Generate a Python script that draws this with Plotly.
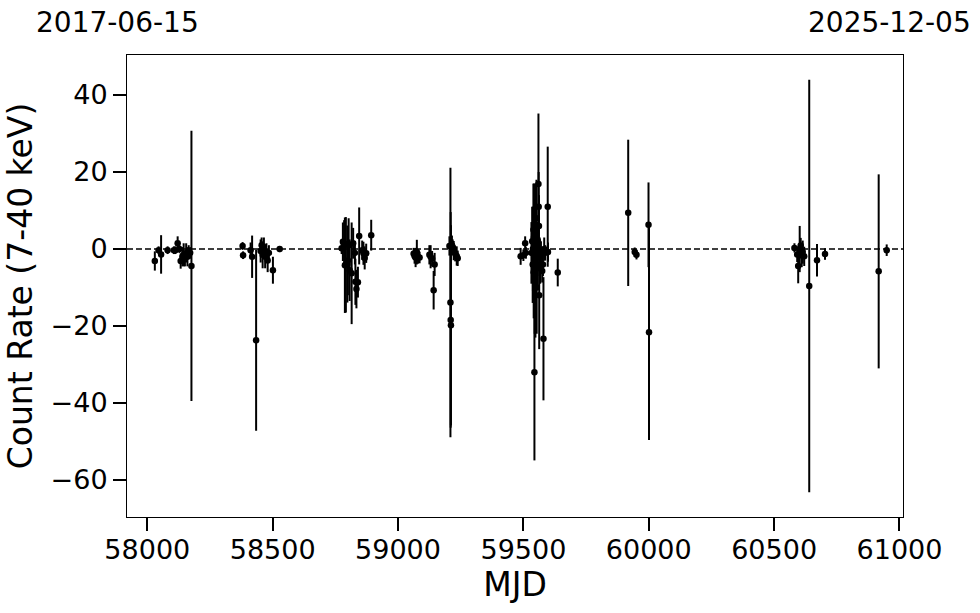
import plotly.graph_objects as go

# ---- data ----
mjd = [
    # cluster 1
    58030, 58045, 58055, 58081, 58106, 58112, 58121, 58128, 58133, 58140,
    58145, 58150, 58155, 58160, 58165, 58171, 58176,
    # cluster 2
    58380, 58382, 58412, 58418, 58434, 58452, 58456, 58460, 58465, 58470,
    58475, 58480, 58485, 58501, 58528,
    # cluster 3
    58775, 58780, 58785, 58788, 58792, 58798, 58800, 58803, 58807, 58815,
    58821, 58828, 58830, 58834, 58840, 58845, 58857, 58862, 58867, 58873, 58893,
    # cluster 4
    59062, 59066, 59070, 59075, 59080, 59086, 59125, 59130, 59136, 59142,
    59146, 59205, 59209, 59210, 59211, 59215, 59218, 59222, 59228, 59234, 59238,
    # cluster 5
    59489, 59500, 59507, 59510, 59532, 59535, 59537, 59538, 59540, 59541,
    59542, 59543, 59544, 59545, 59546, 59548, 59549, 59550, 59552, 59553,
    59555, 59557, 59558, 59560, 59561, 59562, 59563, 59565, 59567, 59570,
    59575, 59578, 59580, 59583, 59587, 59597, 59598, 59637,
    # sparse
    59918, 59944, 59951, 59999, 60001,
    # cluster 6
    60581, 60592, 60596, 60602, 60606, 60610, 60614, 60620, 60640, 60671,
    60703, 60917, 60949,
]
rate = [
    -3.1, -0.3, -1.4, -0.3, -0.3, -0.3, 1.5, 0.0, -3.1, -2.0,
    -1.5, -2.5, -1.0, -2.0, -0.5, -1.0, -4.4,
    0.8, -1.6, -0.3, -2.0, -23.7, -0.5, 1.0, -1.5, 0.5, -2.0,
    -1.0, -3.0, -1.0, -5.5, 0.0,
    0.2, 1.9, 1.5, -4.2, -4.1, -3.9, -3.0, 1.0, -5.5, -6.3,
    1.5, -1.0, -8.5, -10.4, -8.6, 3.4, -0.3, -1.1, -2.3, -1.1, 3.6,
    -1.2, -1.8, -2.2, -0.8, -2.0, -2.2, -1.5, -2.0, -2.5, -10.7,
    -4.0, 0.8, -13.9, -18.4, -19.8, 1.0, 0.5, -0.4, -1.2, -1.8, -2.4,
    -1.9, -1.6, 1.5, -1.0, -1.0, 2.0, -4.0, 0.0, 5.0, -6.0,
    3.0, -2.0, -32.0, -8.0, 1.0, -3.0, 4.0, -5.0, 8.0, -10.0,
    0.0, -4.0, 2.0, 16.9, 11.0, 6.0, -12.0, -2.0, -5.0, -1.0,
    -5.7, -4.0, -23.3, 0.0, -1.0, 11.0, -0.8, -6.1,
    9.4, -0.8, -1.5, 6.3, -21.6,
    0.3, -1.4, -4.4, 0.0, 0.9, -1.7, -0.8, -1.9, -9.6, -2.9,
    -1.3, -5.8, -0.3,
]
rate_err = [
    2.5, 1.0, 5.0, 1.0, 1.0, 1.0, 1.8, 1.0, 2.0, 2.5,
    3.0, 2.0, 2.5, 2.5, 1.5, 1.5, 35.1,
    1.0, 1.0, 2.0, 5.5, 23.5, 3.0, 2.0, 3.5, 2.5, 3.0,
    2.5, 3.0, 2.0, 3.5, 0.8,
    1.5, 5.0, 6.0, 12.4, 12.4, 10.0, 9.0, 7.0, 8.0, 13.2,
    4.0, 3.0, 6.0, 5.0, 4.0, 7.4, 2.5, 3.0, 3.0, 2.5, 4.0,
    1.5, 2.0, 2.5, 3.2, 1.8, 1.5, 2.5, 3.0, 2.0, 5.0,
    3.0, 2.5, 35.0, 28.0, 26.0, 2.5, 2.0, 2.5, 2.0, 2.5, 2.0,
    2.2, 1.5, 1.8, 1.5, 8.0, 9.0, 10.0, 11.0, 12.0, 12.0,
    14.0, 15.0, 22.9, 14.0, 9.0, 20.0, 13.0, 11.0, 10.0, 12.0,
    7.0, 6.0, 5.0, 18.3, 9.0, 8.0, 14.0, 5.0, 4.0, 3.0,
    3.0, 3.0, 16.0, 3.0, 2.0, 15.6, 2.5, 3.6,
    19.0, 1.2, 1.2, 11.0, 28.0,
    1.2, 2.0, 4.5, 6.0, 2.0, 3.0, 3.0, 2.5, 53.6, 4.2,
    1.5, 25.2, 1.5,
]

x_range = [57919, 61014]          # 2017-06-15 .. 2025-12-05
y_range = [-69.6, 50.4]
x_ticks = [58000, 58500, 59000, 59500, 60000, 60500, 61000]
y_ticks = [40, 20, 0, -20, -40, -60]
start_label = "2017-06-15"
end_label = "2025-12-05"

FONT = "DejaVu Sans"

fig = go.Figure()
fig.add_trace(go.Scatter(
    x=mjd, y=rate, mode="markers",
    marker=dict(color="black", size=6.5),
    error_y=dict(type="data", array=rate_err, visible=True,
                 color="black", thickness=2, width=0),
    showlegend=False,
))

fig.add_shape(type="line", xref="paper", x0=0, x1=1, yref="y", y0=0, y1=0,
              line=dict(color="black", width=1.5, dash="6px,3px"))

fig.add_annotation(text=start_label, xref="paper", yref="paper",
                   x=-0.0116, y=1.0714, xanchor="center", yanchor="middle",
                   showarrow=False, font=dict(family=FONT, size=28, color="black"))
fig.add_annotation(text=end_label, xref="paper", yref="paper",
                   x=0.982, y=1.0714, xanchor="center", yanchor="middle",
                   showarrow=False, font=dict(family=FONT, size=28, color="black"))

fig.update_layout(
    width=980, height=613,
    margin=dict(l=127, r=77, t=55, b=96),
    paper_bgcolor="white", plot_bgcolor="white",
    font=dict(family=FONT, color="black"),
    xaxis=dict(
        range=x_range, tickvals=x_ticks, ticktext=[str(t) for t in x_ticks],
        showgrid=False, zeroline=False,
        showline=True, linecolor="black", linewidth=1, mirror=True,
        ticks="outside", ticklen=13, tickwidth=2, tickcolor="black",
        ticklabelstandoff=-4,
        tickfont=dict(family=FONT, size=27),
        title=dict(text="MJD", font=dict(family=FONT, size=33), standoff=0),
    ),
    yaxis=dict(
        range=y_range, tickvals=y_ticks,
        showgrid=False, zeroline=False,
        showline=True, linecolor="black", linewidth=1, mirror=True,
        ticks="outside", ticklen=13, tickwidth=2, tickcolor="black",
        tickfont=dict(family=FONT, size=27),
        title=dict(text="Count Rate (7-40 keV)", font=dict(family=FONT, size=33),
                   standoff=8),
    ),
)

fig.write_html("out.html", config={"displayModeBar": False},
               post_script="document.body.style.margin='0';document.body.style.padding='0';")
